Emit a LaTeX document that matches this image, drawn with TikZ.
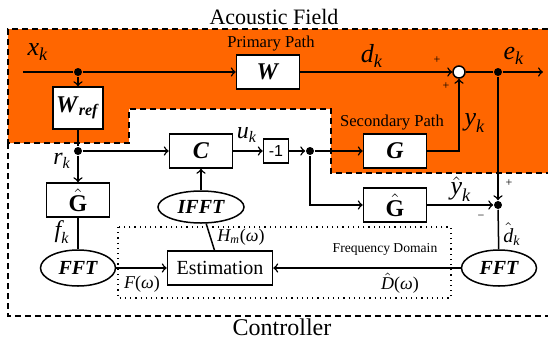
\documentclass[tikz,border=0pt]{standalone}
\usepackage{amsmath}
\usepackage{fontspec}
\setmainfont{Liberation Serif}
\newfontfamily\arialfont{Liberation Sans}
\usetikzlibrary{shapes,arrows,positioning}
\definecolor{acoustic}{RGB}{255,102,0}
\newcommand{\sgnl}[2]{$\textit{#1}_{\textit{#2}}$}

\begin{document}
\begin{tikzpicture}[x=0.5pt,y=-0.5pt,>=to,line width=0.75pt,
  block/.style={draw,fill=white,inner sep=0pt,minimum width=31.5pt,minimum height=17pt,font=\large},
  fftnode/.style={ellipse,draw,fill=white,inner sep=0pt,minimum width=37.5pt,minimum height=18pt,font=\bfseries\itshape},
  dot/.style={circle,fill=black,inner sep=0pt,minimum size=4pt},
  lbl/.style={font=\fontsize{13}{15}\selectfont},
  sml/.style={font=\fontsize{9}{10}\selectfont},
  sgn/.style={font=\fontsize{6}{7}\selectfont}]
\useasboundingbox (0,0) rectangle (548,339);

% acoustic field and controller
\fill[acoustic] (8,29) -- (548,29) -- (548,173) -- (331,173) -- (331,109)
  -- (129,109) -- (129,143) -- (8,143) -- cycle;
\draw[line width=0.6pt,dash pattern=on 3pt off 2pt] (548,29) -- (8,29) -- (8,143)
  -- (129,143) -- (129,109) -- (331,109) -- (331,173) -- (548,173);
\draw[line width=0.6pt,dash pattern=on 3pt off 2pt] (8,143) -- (8,316) -- (548,316);
\draw[line width=0.6pt,dotted] (118,227) rectangle (451,298);

\node[font=\fontsize{11}{13}\selectfont] (acf) at (274,17) {Acoustic Field};
\node[font=\fontsize{12}{14}\selectfont] (ctl) at (282,327) {Controller};
\node[font=\fontsize{8.3}{10}\selectfont] (pp) at (271,44) {Primary Path};
\node[font=\fontsize{8.3}{10}\selectfont] (sp) at (392,123) {Secondary Path};
\node[font=\fontsize{6.8}{8}\selectfont] (fd) at (385,249) {Frequency Domain};

% blocks
\node[block] (W) at (268,72) {\textbf{\textit{W}}};
\node[block,minimum width=25pt,minimum height=21pt] (Wref) at (78,108) {$\textbf{\textit{W}}_{\textbf{\textit{ref}}}$};
\node[block] (C) at (201,151) {\textbf{\textit{C}}};
\node[draw,fill=white,inner sep=0pt,minimum width=12.5pt,minimum height=12pt,font=\arialfont\footnotesize] (neg) at (276,151) {-1};
\node[block] (G) at (395,151) {\textbf{\textit{G}}};
\node[block] (Ghat) at (395,205) {$\hat{\textbf{G}}$};
\node[block] (Gref) at (78,200) {$\hat{\textbf{G}}$};
\node[block,minimum width=52.5pt,font=\normalsize] (est) at (220,268) {Estimation};
\node[fftnode] (fftL) at (78,268) {FFT};
\node[fftnode] (fftR) at (499,268) {FFT};
\node[fftnode,minimum width=43pt,minimum height=16pt] (ifft) at (201,207) {IFFT};

% junctions
\node[dot] (xd) at (78,72) {};
\node[dot] (rd) at (78,151) {};
\node[dot] (ud) at (310,151) {};
\node[dot] (ed) at (498,72) {};
\node[dot] (dd) at (498,205) {};
\node[circle,draw,fill=white,inner sep=0pt,minimum size=6pt] (sum) at (459,72) {};
\coordinate (xin) at (23,72);
\coordinate (eout) at (543,72);

% connections
\draw (xin) -- (xd);
\draw[->] (xd) -- (W);
\draw[->] (xd) -- (Wref);
\draw (Wref) -- (rd);
\draw[->] (rd) -- (C);
\draw[->] (rd) -- (Gref);
\draw (Gref) -- (fftL);
\draw[->] (fftL) -- (est);
\draw (est) -- (ifft);
\draw[->] (ifft) -- (C);
\draw[->] (C) -- (neg);
\draw[->] (neg) -- (ud);
\draw[->] (ud) -- (G);
\draw[->] (ud) |- (Ghat);
\draw[->] (G) -| (sum);
\draw[->] (W) -- (sum);
\draw (sum) -- (ed);
\draw[->] (ed) -- (eout);
\draw[->] (ed) -- (dd);
\draw[->] (Ghat) -- (dd);
\draw (dd) -- (fftR);
\draw[->] (fftR) -- (est);

% signal labels
\node[lbl] (xk) at (38,52) {\sgnl{x}{k}};
\node[lbl] (dk) at (372,56) {\sgnl{d}{k}};
\node[lbl] (ek) at (514,56) {\sgnl{e}{k}};
\node[lbl] (yk) at (475,123) {\sgnl{y}{k}};
\node[lbl,font=\large] (uk) at (247,135) {\sgnl{u}{k}};
\node[lbl,font=\large] (rk) at (62,161) {\sgnl{r}{k}};
\node[lbl,font=\large] (fk) at (62,232) {\sgnl{f}{k}};
\node[lbl] (yhk) at (461,189) {$\hat{\textit{y}}_{\textit{k}}$};
\node (dhk) at (512,234) {$\hat{\textit{d}}_{\textit{k}}$};
\node[sml] (Fw) at (142,284) {\textit{F}(\textit{ω})};
\node[sml] (Hw) at (241,237) {$\textit{H}_{\textit{m}}$(\textit{ω})};
\node[sml] (Dw) at (400,283) {$\hat{\textit{D}}$(\textit{ω})};
\node[sgn] (p1) at (437,60) {+};
\node[sgn] (p2) at (446,86) {+};
\node[sgn] (p3) at (509,183) {+};
\node[sgn] (m1) at (481,217) {−};
\end{tikzpicture}
\end{document}
